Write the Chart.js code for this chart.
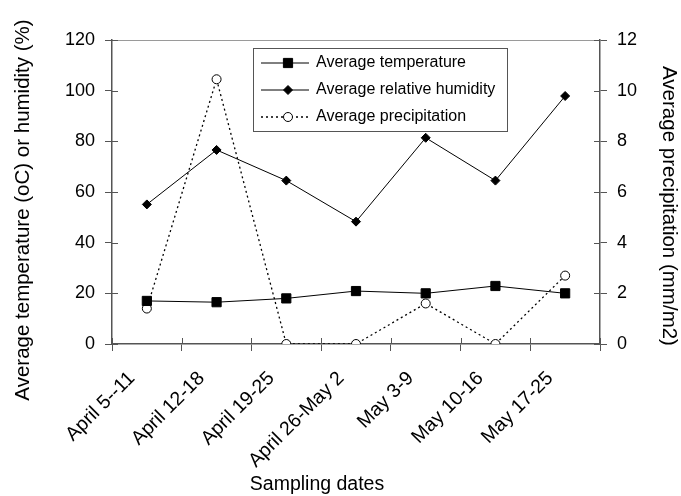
<!DOCTYPE html>
<html>
<head>
<meta charset="utf-8">
<script src="https://cdn.jsdelivr.net/npm/chart.js@4/dist/chart.umd.min.js"></script>
<style>
  html, body { margin: 0; padding: 0; background: #fff; }
</style>
</head>
<body>
<canvas id="chart" width="681" height="496"></canvas>
<script>
const categories = ["April 5--11", "April 12-18", "April 19-25", "April 26-May 2", "May 3-9", "May 10-16", "May 17-25"];
const temperature = [17.0, 16.5, 18.0, 20.9, 20.0, 22.9, 20.0];
const humidity = [55.1, 76.6, 64.5, 48.3, 81.4, 64.5, 97.9];
const precipitation = [1.4, 10.45, 0, 0, 1.6, 0, 2.7];
const seriesNames = ["Average temperature", "Average relative humidity", "Average precipitation"];
const axisTitles = {
  x: "Sampling dates",
  y: "Average temperature (oC) or humidity (%)",
  y1: "Average precipitation (mm/m2)"
};

const FONT = "'Liberation Sans', Arial, sans-serif";
const AXIS = "#555";

// thin frame line on top + tick marks poking into the plot area
const framePlugin = {
  id: "frame",
  afterDraw(chart) {
    const { ctx, chartArea: a, scales } = chart;
    ctx.save();
    ctx.strokeStyle = "#9a9a9a";
    ctx.lineWidth = 1;
    ctx.beginPath();
    ctx.moveTo(a.left, a.top + 0.5);
    ctx.lineTo(a.right, a.top + 0.5);
    ctx.stroke();

    ctx.strokeStyle = AXIS;
    ctx.beginPath();
    scales.y.ticks.forEach((t, i) => {
      const y = Math.round(scales.y.getPixelForTick(i)) + 0.5;
      ctx.moveTo(a.left, y); ctx.lineTo(a.left + 6, y);
    });
    scales.y1.ticks.forEach((t, i) => {
      const y = Math.round(scales.y1.getPixelForTick(i)) + 0.5;
      ctx.moveTo(a.right, y); ctx.lineTo(a.right - 6, y);
    });
    const xs = scales.x;
    for (let i = 0; i <= categories.length; i++) {
      const x = Math.round(xs.getPixelForValue(i - 0.5)) + 0.5;
      ctx.moveTo(x, a.bottom); ctx.lineTo(x, a.bottom - 6);
    }
    ctx.stroke();

    // axis titles (the original sits them a bit off-centre)
    ctx.fillStyle = "#000";
    ctx.textAlign = "center";
    ctx.textBaseline = "middle";
    ctx.font = "19.5px " + FONT;
    ctx.fillText(axisTitles.x, a.left + 205, 485);
    ctx.font = "20.5px " + FONT;
    ctx.save();
    ctx.translate(23, a.top + 170);
    ctx.rotate(-Math.PI / 2);
    ctx.fillText(axisTitles.y, 0, 0);
    ctx.restore();
    ctx.save();
    ctx.translate(669, a.top + 166);
    ctx.rotate(Math.PI / 2);
    ctx.fillText(axisTitles.y1, 0, 0);
    ctx.restore();
    ctx.restore();
  }
};

// boxed legend sitting inside the plot
const boxLegend = {
  id: "boxLegend",
  afterDatasetsDraw(chart) {
    const { ctx, chartArea: a } = chart;
    const bx = a.left + 141, by = a.top + 8, bw = 254, bh = 83;
    ctx.save();
    ctx.fillStyle = "#fff";
    ctx.fillRect(bx, by, bw, bh);
    ctx.strokeStyle = AXIS;
    ctx.lineWidth = 1;
    ctx.strokeRect(bx + 0.5, by + 0.5, bw, bh);

    chart.data.datasets.forEach((ds, i) => {
      const y = by + 15 + i * 27;
      ctx.strokeStyle = ds.borderColor;
      ctx.lineWidth = ds.borderWidth;
      ctx.setLineDash(ds.borderDash || []);
      ctx.beginPath();
      ctx.moveTo(bx + 8, y);
      ctx.lineTo(bx + 56, y);
      ctx.stroke();
      ctx.setLineDash([]);
      ctx.fillStyle = ds.pointBackgroundColor;
      ctx.strokeStyle = ds.pointBorderColor;
      ctx.lineWidth = 1;
      Chart.helpers.drawPoint(ctx, {
        pointStyle: ds.pointStyle,
        radius: ds.pointRadius,
        rotation: 0,
        borderWidth: 1
      }, bx + 35, y);
      ctx.fillStyle = "#000";
      ctx.font = "16px " + FONT;
      ctx.textBaseline = "middle";
      ctx.textAlign = "left";
      ctx.fillText(ds.label, bx + 63, y);
    });
    ctx.restore();
  }
};

new Chart(document.getElementById("chart"), {
  type: "line",
  data: {
    labels: categories,
    datasets: [
      {
        label: seriesNames[0],
        data: temperature,
        yAxisID: "y",
        borderColor: "#000",
        borderWidth: 1,
        pointStyle: "rect",
        pointRadius: 6.5,
        pointBackgroundColor: "#000",
        pointBorderColor: "#000",
        pointBorderWidth: 1
      },
      {
        label: seriesNames[1],
        data: humidity,
        yAxisID: "y",
        borderColor: "#000",
        borderWidth: 1,
        pointStyle: "rectRot",
        pointRadius: 4.5,
        pointBackgroundColor: "#000",
        pointBorderColor: "#000",
        pointBorderWidth: 1
      },
      {
        label: seriesNames[2],
        data: precipitation,
        yAxisID: "y1",
        borderColor: "#000",
        borderWidth: 1.3,
        borderDash: [2, 3],
        pointStyle: "circle",
        pointRadius: 4.5,
        pointBackgroundColor: "#fff",
        pointBorderColor: "#000",
        pointBorderWidth: 1
      }
    ]
  },
  options: {
    responsive: false,
    animation: false,
    layout: { padding: { top: 40, left: 0, right: 0, bottom: 0 } },
    plugins: {
      legend: { display: false },
      tooltip: { enabled: false }
    },
    scales: {
      x: {
        type: "category",
        offset: true,
        grid: { offset: true, drawOnChartArea: false, tickLength: 7, color: AXIS, lineWidth: 1 },
        border: { color: AXIS, width: 1.5 },
        ticks: {
          minRotation: 45, maxRotation: 45, autoSkip: false,
          color: "#000", font: { family: FONT, size: 19.5 }, padding: 16, labelOffset: -15
        },
        afterFit: (s) => { s.height = 152; }
      },
      y: {
        position: "left",
        min: 0, max: 120,
        grid: { drawOnChartArea: false, tickLength: 7, color: AXIS, lineWidth: 1 },
        border: { color: AXIS, width: 1.5 },
        ticks: { stepSize: 20, color: "#000", font: { family: FONT, size: 18 }, padding: 10 },
        afterFit: (s) => { s.width = 112; }
      },
      y1: {
        position: "right",
        min: 0, max: 12,
        grid: { drawOnChartArea: false, tickLength: 7, color: AXIS, lineWidth: 1 },
        border: { color: AXIS, width: 1.5 },
        ticks: { stepSize: 2, color: "#000", font: { family: FONT, size: 18 }, padding: 10 },
        afterFit: (s) => { s.width = 81; }
      }
    }
  },
  plugins: [framePlugin, boxLegend]
});
</script>
</body>
</html>
